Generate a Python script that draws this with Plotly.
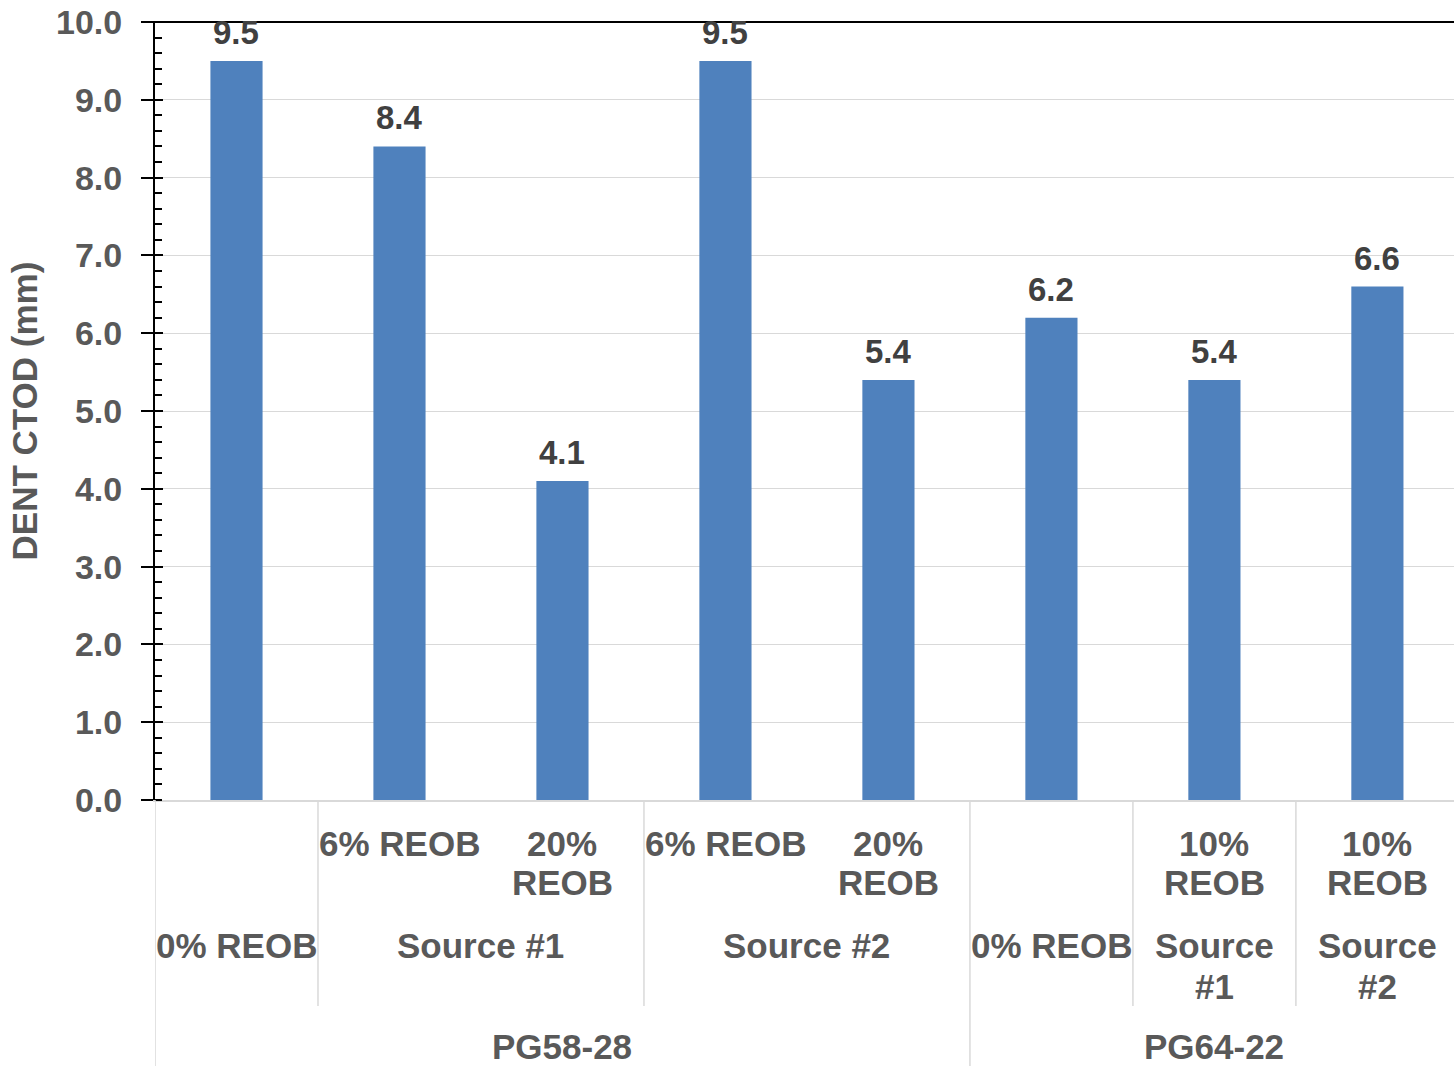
import plotly.graph_objects as go

# ---- data ----
categories = ["PG58-28 0%", "PG58-28 S1 6%", "PG58-28 S1 20%", "PG58-28 S2 6%",
              "PG58-28 S2 20%", "PG64-22 0%", "PG64-22 S1 10%", "PG64-22 S2 10%"]
ctod_values = [9.5, 8.4, 4.1, 9.5, 5.4, 6.2, 5.4, 6.6]
level1_labels = ["", "6% REOB", "20%<br>REOB", "6% REOB", "20%<br>REOB", "", "10%<br>REOB", "10%<br>REOB"]
level2_groups = [("0% REOB", 0, 0), ("Source #1", 1, 2), ("Source #2", 3, 4),
                 ("0% REOB", 5, 5), ("Source<br>#1", 6, 6), ("Source<br>#2", 7, 7)]
level3_groups = [("PG58-28", 0, 4), ("PG64-22", 5, 7)]
y_title = "DENT CTOD (mm)"

W, H = 1454, 1066
PLOT_L, PLOT_T, PLOT_B = 155, 22, 800
L, T, B = PLOT_L, PLOT_T, H - PLOT_B
PH = PLOT_B - PLOT_T

def py2paper(py):
    return (PLOT_B - py) / PH

FONT = "Liberation Sans, Arial, sans-serif"
GRAY = "#595959"

fig = go.Figure()
fig.add_trace(go.Bar(x=categories, y=ctod_values, marker_color="#4f81bd",
                     marker_line_width=0, width=0.32, showlegend=False))
fig.add_trace(go.Scatter(x=[categories[0]], y=[0], yaxis="y2", mode="markers",
                         marker=dict(opacity=0), showlegend=False, hoverinfo="skip"))

ann = []
for i, v in enumerate(ctod_values):
    ann.append(dict(x=i, y=v, xref="x", yref="y", text=f"<b>{v:.1f}</b>", showarrow=False,
                    yanchor="bottom", yshift=8, font=dict(family=FONT, size=33, color="#404040")))

def add_label(text, xc, line_centers):
    for k, line in enumerate(text.split("<br>")):
        ann.append(dict(x=xc, y=py2paper(line_centers[k]), xref="x", yref="paper",
                        text=f"<b>{line}</b>", showarrow=False, yanchor="middle",
                        font=dict(family=FONT, size=35, color=GRAY)))

for i, t in enumerate(level1_labels):
    if t:
        add_label(t, i, [843, 882])
for t, a, b in level2_groups:
    add_label(t, (a + b) / 2, [945, 986])
for t, a, b in level3_groups:
    add_label(t, (a + b) / 2, [1046])

shapes = []
sep_color = "#d9d9d9"
for xv in [-0.5, 4.5]:
    shapes.append(dict(type="line", xref="x", yref="paper", x0=xv, x1=xv, y0=0, y1=py2paper(1070),
                       line=dict(color=sep_color, width=1.5)))
for xv in [0.5, 2.5, 5.5, 6.5]:
    shapes.append(dict(type="line", xref="x", yref="paper", x0=xv, x1=xv, y0=0, y1=py2paper(1006),
                       line=dict(color=sep_color, width=1.5)))
shapes.append(dict(type="line", xref="paper", yref="paper", x0=-12 / (W - L), x1=1, y0=1, y1=1,
                   line=dict(color="black", width=2)))

fig.update_layout(
    width=W, height=H, margin=dict(l=L, r=0, t=T, b=B),
    plot_bgcolor="white", paper_bgcolor="white",
    font=dict(family=FONT, size=34, color=GRAY),
    annotations=ann, shapes=shapes,
    xaxis=dict(type="category", range=[-0.5, 7.47], showticklabels=False, ticks="",
               showline=True, linecolor="#d9d9d9", linewidth=2, showgrid=False, zeroline=False),
    yaxis=dict(range=[0, 10], dtick=1, tickformat=".1f", ticks="outside", ticklen=12,
               tickcolor="black", tickwidth=2, showline=True, linecolor="black", linewidth=2,
               showgrid=True, gridcolor="#d9d9d9", gridwidth=1, zeroline=False,
               tickprefix="<b>", ticksuffix="</b>", ticklabeloverflow="allow",
               tickfont=dict(family=FONT, size=34, color=GRAY), ticklabelstandoff=12,
               title=dict(text=f"<b>{y_title}</b>", font=dict(family=FONT, size=35, color=GRAY), standoff=8),
               minor=dict(ticks="inside", dtick=0.2, ticklen=7, tickcolor="black", tickwidth=1.5, showgrid=False)),
    yaxis2=dict(range=[0, 10], overlaying="y", side="left", dtick=1, ticks="inside", ticklen=8,
                tickcolor="black", tickwidth=2, showticklabels=False, showgrid=False, zeroline=False,
                showline=False),
)

fig.write_html("out.html", config={"displayModeBar": False},
               post_script="document.body.style.margin='0';document.body.style.overflow='hidden';")
